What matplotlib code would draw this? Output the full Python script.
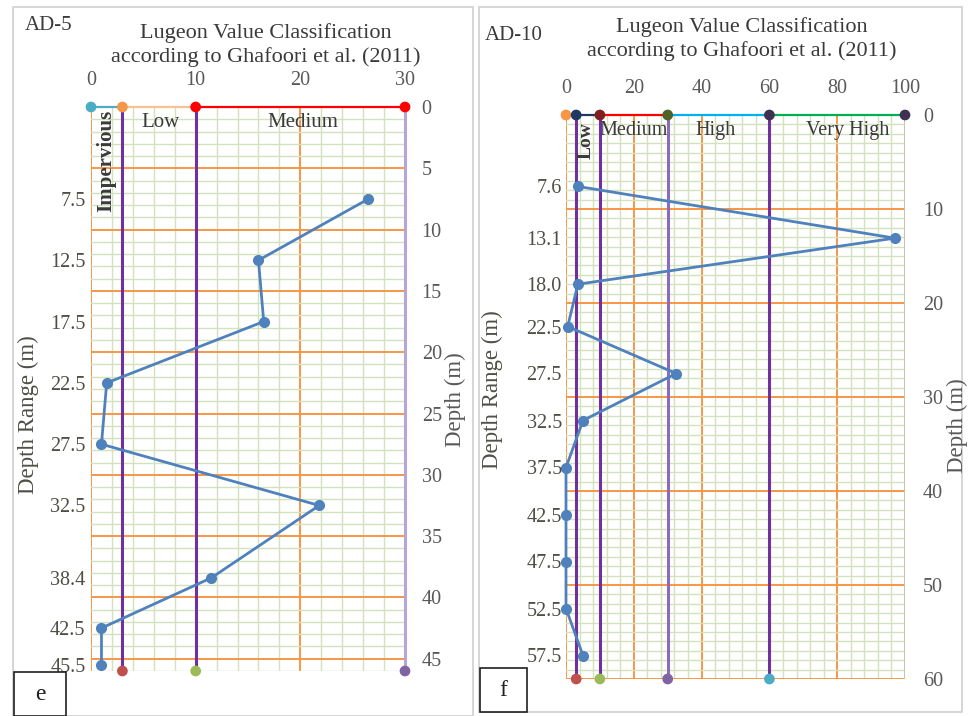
import matplotlib.pyplot as plt
from matplotlib.patches import Rectangle
from matplotlib.ticker import MultipleLocator

plt.rcParams['font.family'] = ['Liberation Serif', 'DejaVu Serif']

# borehole AD-5
ad5_depth = [7.5, 12.5, 17.5, 22.5, 27.5, 32.5, 38.4, 42.5, 45.5]
ad5_lugeon = [26.5, 16.0, 16.5, 1.5, 1.0, 21.8, 11.5, 1.0, 1.0]
ad5_bounds = [0, 3, 10, 30]
ad5_classes = ['Impervious', 'Low', 'Medium']

# borehole AD-10
ad10_depth = [7.6, 13.1, 18.0, 22.5, 27.5, 32.5, 37.5, 42.5, 47.5, 52.5, 57.5]
ad10_lugeon = [3.5, 97.0, 3.5, 0.5, 32.5, 5.0, 0.0, 0.0, 0.0, 0.0, 5.0]
ad10_bounds = [0, 3, 10, 30, 60, 100]
ad10_classes = ['Low', 'Medium', 'High', 'Very High']

title = 'Lugeon Value Classification\naccording to Ghafoori et al. (2011)'

ORANGE = '#f79646'
MINOR = '#d3e2bd'
PURPLE = '#7030a0'
BLUE = '#4f81bd'
TXT = '#3a3a3a'
TICK = '#595959'

fig = plt.figure(figsize=(9.72, 7.16), dpi=100)

# panel frames
for x0, x1, y0, y1 in [(13, 473, 7, 716), (479, 962, 7, 712)]:
    fig.patches.append(Rectangle((x0 / 972, 1 - y1 / 716), (x1 - x0) / 972, (y1 - y0) / 716,
                                 transform=fig.transFigure, fill=False, ec='#d0d0d0', lw=1.2))


def setup(ax, xmax, ymax, xmaj, xmin, ymaj, depth, top_pad, left_pad, right_pad):
    ax.set_xlim(0, xmax)
    ax.set_ylim(ymax, 0)
    ax.xaxis.set_major_locator(MultipleLocator(xmaj))
    ax.xaxis.set_minor_locator(MultipleLocator(xmin))
    ax.yaxis.set_major_locator(MultipleLocator(ymaj))
    ax.yaxis.set_minor_locator(MultipleLocator(1))
    ax.grid(which='minor', color=MINOR, lw=1.0, zorder=0)
    ax.grid(which='major', color=ORANGE, lw=1.4, zorder=1)
    ax.set_axisbelow(True)
    for s in ax.spines.values():
        s.set_visible(False)
    ax.xaxis.tick_top()
    ax.tick_params(axis='x', which='both', length=0, pad=top_pad, labelsize=14.5, labelcolor=TICK)
    ax.tick_params(axis='y', which='both', length=0, labelleft=False)
    # depth range labels on the left, a second y axis
    axl = ax.twinx()
    axl.set_ylim(ymax, 0)
    axl.yaxis.tick_left()
    axl.set_yticks(depth)
    axl.set_yticklabels(['%.1f' % d for d in depth])
    axl.tick_params(length=0, pad=left_pad, labelsize=14.5, labelcolor='#4f4f45')
    # plain depth scale on the right
    axr = ax.twinx()
    axr.set_ylim(ymax, 0)
    axr.yaxis.set_major_locator(MultipleLocator(ymaj))
    axr.tick_params(length=0, pad=right_pad, labelsize=14.5, labelcolor=TICK)
    for a in (axl, axr):
        for s in a.spines.values():
            s.set_visible(False)
    return axl


def draw_classes(ax, bounds, seg_cols, top_cols, bot_cols, vcols, ymax):
    for i in range(len(bounds) - 1):
        ax.plot(bounds[i:i + 2], [0, 0], color=seg_cols[i], lw=1.6, zorder=4, clip_on=False)
    ax.scatter(bounds, [0] * len(bounds), s=45, c=top_cols, zorder=5, clip_on=False)
    inner = bounds[1:len(bot_cols) + 1]
    for b, c in zip(inner, vcols):
        ax.plot([b, b], [0, ymax], color=c, lw=2.2, zorder=3, clip_on=False)
    ax.scatter(inner, [ymax] * len(inner), s=45, c=bot_cols, zorder=5, clip_on=False)


# ---- e: AD-5 ----
ax1 = fig.add_axes([91 / 972, 1 - 671 / 716, 314 / 972, 564 / 716])
setup(ax1, 30, 46, 10, 2, 5, ad5_depth, 12, 4, 12)
draw_classes(ax1, ad5_bounds, ['#4bacc6', '#fac090', '#ff0000'],
             ['#4bacc6', ORANGE, '#ff0000', '#ff0000'],
             ['#c0504d', '#9bbb59', '#8064a2'],
             [PURPLE, PURPLE, '#b4a7d6'], 46)
ax1.plot(ad5_lugeon, ad5_depth, color=BLUE, lw=2, marker='o', ms=7, zorder=6, clip_on=False)
ax1.text(1.45, 4.4, ad5_classes[0], rotation=90, ha='center', va='center',
         fontsize=15, fontweight='bold', color=TXT, zorder=7)
ax1.text(6.6, 1.25, ad5_classes[1], ha='center', va='center', fontsize=15, color=TXT, zorder=7)
ax1.text(20.2, 1.25, ad5_classes[2], ha='center', va='center', fontsize=15, color=TXT, zorder=7)

# ---- f: AD-10 ----
ax2 = fig.add_axes([566 / 972, 1 - 679 / 716, 339 / 972, 564 / 716])
setup(ax2, 100, 60, 20, 4, 10, ad10_depth, 12, 3, 13)
draw_classes(ax2, ad10_bounds, ['#1f3864', '#1f3864', '#ff0000', '#00b0f0', '#00b050'],
             [ORANGE, '#1f3864', '#7f1f1f', '#4f6228', '#3f3151', '#3f3151'],
             ['#c0504d', '#9bbb59', '#8064a2', '#4bacc6'],
             [PURPLE, PURPLE, '#8a6bbf', PURPLE], 60)
ax2.axvline(100, color='#c8c8c8', lw=1.2, zorder=2)
ax2.plot(ad10_lugeon, ad10_depth, color=BLUE, lw=2, marker='o', ms=7, zorder=6, clip_on=False)
ax2.text(5.8, 2.7, ad10_classes[0], rotation=90, ha='center', va='center',
         fontsize=14, fontweight='bold', color=TXT, zorder=7)
ax2.text(20, 1.6, ad10_classes[1], ha='center', va='center', fontsize=14.5, color=TXT, zorder=7)
ax2.text(44, 1.6, ad10_classes[2], ha='center', va='center', fontsize=14.5, color=TXT, zorder=7)
ax2.text(83, 1.6, ad10_classes[3], ha='center', va='center', fontsize=14.5, color=TXT, zorder=7)

# titles, axis names, panel tags
fig.text(266 / 972, 1 - 45 / 716, title, ha='center', va='center', fontsize=16,
         color=TXT, linespacing=1.3)
fig.text(742 / 972, 1 - 39 / 716, title, ha='center', va='center', fontsize=16,
         color=TXT, linespacing=1.3)
fig.text(25 / 972, 1 - 25 / 716, 'AD-5', ha='left', va='center', fontsize=15, color=TXT)
fig.text(485 / 972, 1 - 36 / 716, 'AD-10', ha='left', va='center', fontsize=15, color=TXT)
fig.text(28 / 972, 1 - 415 / 716, 'Depth Range (m)', rotation=90, ha='center', va='center',
         fontsize=16.5, color='#4f4f45')
fig.text(455 / 972, 1 - 400 / 716, 'Depth (m)', rotation=90, ha='center', va='center',
         fontsize=16.5, color=TICK)
fig.text(492 / 972, 1 - 390 / 716, 'Depth Range (m)', rotation=90, ha='center', va='center',
         fontsize=16.5, color='#4f4f45')
fig.text(957 / 972, 1 - 426 / 716, 'Depth (m)', rotation=90, ha='center', va='center',
         fontsize=16.5, color=TICK)

for x0, x1, y0, y1, tag in [(14, 66, 672, 716, 'e'), (480, 527, 668, 712, 'f')]:
    fig.patches.append(Rectangle((x0 / 972, 1 - y1 / 716), (x1 - x0) / 972, (y1 - y0) / 716,
                                 transform=fig.transFigure, fill=True, fc='white',
                                 ec='#202020', lw=1.2))
    fig.text((x0 + x1) / 2 / 972, 1 - (y0 + y1) / 2 / 716, tag, ha='center', va='center',
             fontsize=17, color='#202020')

fig.savefig('out.png', dpi=100)
